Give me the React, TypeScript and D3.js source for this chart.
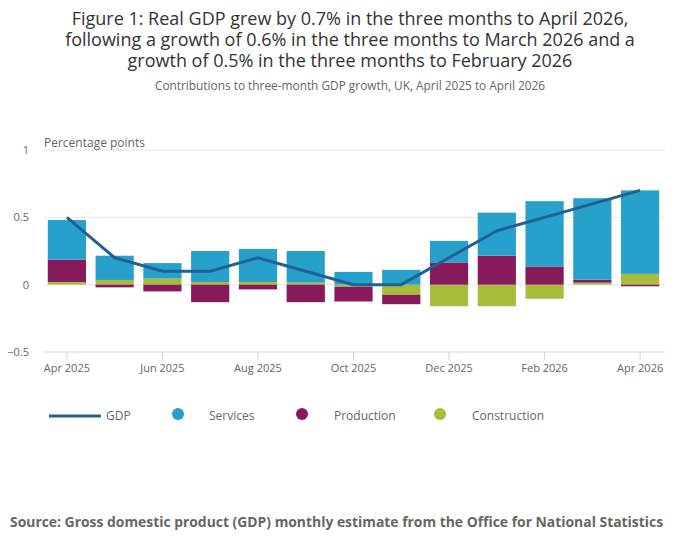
import { useEffect, useRef } from "react";
import * as d3 from "d3";

const months = [
  "Apr 2025", "May 2025", "Jun 2025", "Jul 2025", "Aug 2025", "Sep 2025", "Oct 2025",
  "Nov 2025", "Dec 2025", "Jan 2026", "Feb 2026", "Mar 2026", "Apr 2026",
];
const services = [0.295, 0.18, 0.115, 0.23, 0.245, 0.235, 0.095, 0.11, 0.16, 0.32, 0.485, 0.605, 0.62];
const production = [0.165, -0.02, -0.05, -0.13, -0.035, -0.13, -0.11, -0.07, 0.165, 0.215, 0.135, 0.022, -0.012];
const construction = [0.02, 0.035, 0.045, 0.02, 0.02, 0.015, -0.015, -0.075, -0.16, -0.16, -0.105, 0.015, 0.08];
const gdp = [0.5, 0.2, 0.1, 0.1, 0.2, 0.1, 0.0, 0.0, 0.2, 0.4, 0.5, 0.6, 0.7];
const yTicks = [-0.5, 0, 0.5, 1];
const xTickLabels = ["Apr 2025", "Jun 2025", "Aug 2025", "Oct 2025", "Dec 2025", "Feb 2026", "Apr 2026"];

const seriesKeys = ["construction", "production", "services"];
const colors: Record<string, string> = {
  services: "#27a0cc",
  production: "#871a5b",
  construction: "#a8bd3a",
};
const font = "'Open Sans', sans-serif";

export default function App() {
  const ref = useRef<SVGSVGElement>(null);

  useEffect(() => {
    if (!ref.current) return;
    const svg = d3.select(ref.current);
    svg.selectAll("*").remove();

    const x = d3.scaleBand<string>().domain(months).range([43, 664]).paddingInner(0.2).paddingOuter(0.1);
    const y = d3.scaleLinear().domain([-0.5, 1]).range([352, 150]);

    // title
    const titleLines = [
      "Figure 1: Real GDP grew by 0.7% in the three months to April 2026,",
      "following a growth of 0.6% in the three months to March 2026 and a",
      "growth of 0.5% in the three months to February 2026",
    ];
    svg.append("g")
      .selectAll("text")
      .data(titleLines)
      .join("text")
      .attr("x", 350)
      .attr("y", (_, i) => 25 + i * 21)
      .attr("text-anchor", "middle")
      .attr("font-family", font)
      .attr("font-size", 18)
      .attr("fill", "#333")
      .text((d) => d);

    svg.append("text")
      .attr("x", 350).attr("y", 90)
      .attr("text-anchor", "middle")
      .attr("font-family", font).attr("font-size", 11.85)
      .attr("fill", "#666")
      .text("Contributions to three-month GDP growth, UK, April 2025 to April 2026");

    // grid
    svg.append("g")
      .selectAll("line")
      .data(yTicks.filter((t) => t !== -0.5))
      .join("line")
      .attr("x1", 44).attr("x2", 665)
      .attr("y1", (d) => y(d)).attr("y2", (d) => y(d))
      .attr("stroke", "#e6e6e6");

    svg.append("g")
      .selectAll("text")
      .data(yTicks)
      .join("text")
      .attr("x", 29)
      .attr("y", (d) => y(d) + 4)
      .attr("text-anchor", "end")
      .attr("font-family", font).attr("font-size", 11)
      .attr("fill", "#666")
      .text((d) => d3.format("")(d));

    svg.append("text")
      .attr("x", 44).attr("y", 147)
      .attr("font-family", font).attr("font-size", 12)
      .attr("fill", "#666")
      .text("Percentage points");

    // bars
    const rows = months.map((m, i) => ({
      month: m,
      services: services[i],
      production: production[i],
      construction: construction[i],
    }));
    const stacked = d3.stack<any>()
      .keys(seriesKeys)
      .offset(d3.stackOffsetDiverging)(rows);

    svg.append("g")
      .selectAll("g")
      .data(stacked)
      .join("g")
      .attr("fill", (s) => colors[s.key])
      .selectAll("rect")
      .data((s) => s)
      .join("rect")
      .attr("x", (d: any) => x(d.data.month)!)
      .attr("width", x.bandwidth())
      .attr("y", (d) => y(Math.max(d[0], d[1])))
      .attr("height", (d) => Math.abs(y(d[0]) - y(d[1])));

    // x axis
    svg.append("line")
      .attr("x1", 44).attr("x2", 665)
      .attr("y1", y(-0.5)).attr("y2", y(-0.5))
      .attr("stroke", "#ccd6eb");

    const xTicks = svg.append("g")
      .selectAll("g")
      .data(xTickLabels)
      .join("g")
      .attr("transform", (d) => `translate(${x(d)! + x.bandwidth() / 2},${y(-0.5)})`);
    xTicks.append("line").attr("y2", 8).attr("stroke", "#ccd6eb");
    xTicks.append("text")
      .attr("y", 20)
      .attr("text-anchor", "middle")
      .attr("font-family", font).attr("font-size", 11)
      .attr("fill", "#666")
      .text((d) => d);

    // GDP line
    const line = d3.line<number>()
      .x((_, i) => x(months[i])! + x.bandwidth() / 2)
      .y((d) => y(d));
    svg.append("path")
      .datum(gdp)
      .attr("fill", "none")
      .attr("stroke", "#206095")
      .attr("stroke-width", 3)
      .attr("d", line);

    // legend
    const legend = svg.append("g").attr("font-family", font).attr("font-size", 12).attr("fill", "#666");
    legend.append("line")
      .attr("x1", 49).attr("x2", 101).attr("y1", 416).attr("y2", 416)
      .attr("stroke", "#206095").attr("stroke-width", 3);
    legend.append("text").attr("x", 106).attr("y", 420).text("GDP");
    const items = [
      { key: "services", label: "Services", cx: 178, tx: 209 },
      { key: "production", label: "Production", cx: 302, tx: 334 },
      { key: "construction", label: "Construction", cx: 440, tx: 472 },
    ];
    items.forEach((it) => {
      legend.append("circle").attr("cx", it.cx).attr("cy", 414).attr("r", 6).attr("fill", colors[it.key]);
      legend.append("text").attr("x", it.tx).attr("y", 420).text(it.label);
    });

    // source
    svg.append("text")
      .attr("x", 10).attr("y", 527)
      .attr("font-family", font).attr("font-size", 13.9).attr("font-weight", 700)
      .attr("fill", "#666")
      .text("Source: Gross domestic product (GDP) monthly estimate from the Office for National Statistics");
  }, []);

  return (
    <svg ref={ref} width={700} height={549} style={{ display: "block", position: "absolute", left: 0, top: 0 }} />
  );
}
